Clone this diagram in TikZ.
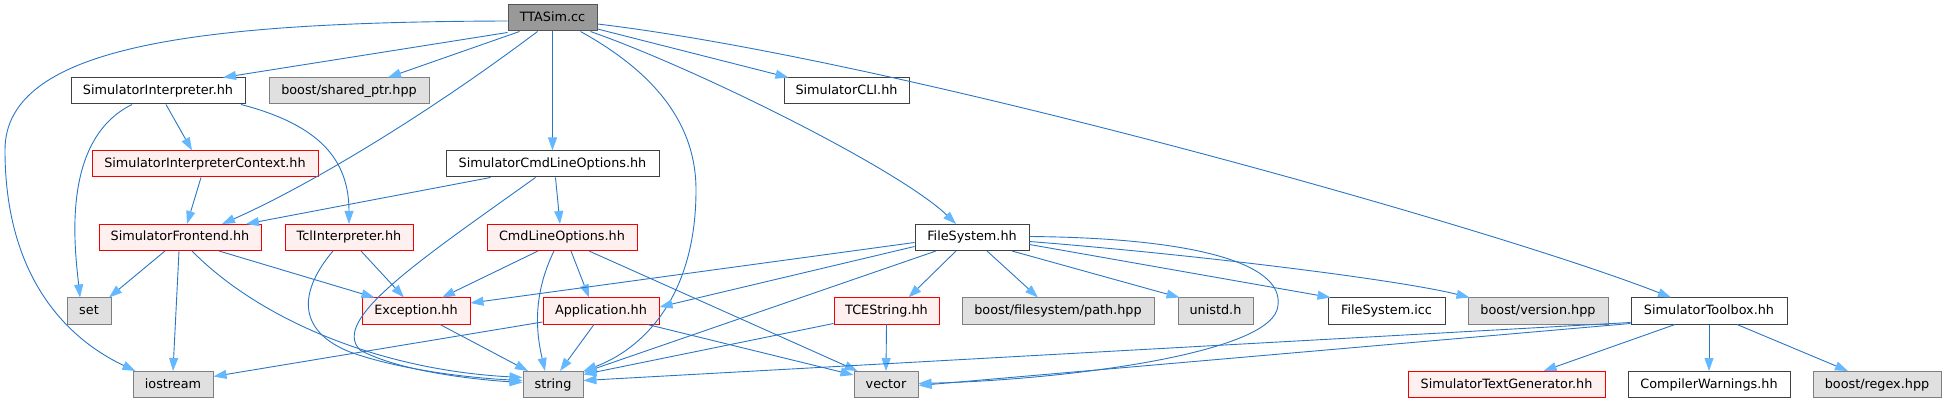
\documentclass[tikz,border=0pt]{standalone}
\usepackage{fontspec}
\setmainfont{DejaVu Sans}
\usetikzlibrary{arrows.meta}
\definecolor{edgec}{HTML}{2A76C4}
\definecolor{arrowc}{HTML}{63B8FF}
\definecolor{wborder}{HTML}{404040}
\definecolor{gborder}{HTML}{7F7F7F}
\definecolor{gfill}{HTML}{E0E0E0}
\definecolor{rfill}{HTML}{FFF0F0}
\definecolor{rborder}{HTML}{F00000}
\definecolor{tborder}{HTML}{555555}
\definecolor{tfill}{HTML}{999999}
\tikzset{
  box/.style={draw, rectangle, minimum height=26pt, inner sep=0pt, line width=1pt,
    font=\fontsize{12.8}{14}\selectfont, text height=9.6pt, text depth=2.6pt},
  wbox/.style={box, draw=wborder, fill=white},
  gbox/.style={box, draw=gborder, fill=gfill},
  rbox/.style={box, draw=rborder, fill=rfill},
  tbox/.style={box, draw=tborder, fill=tfill},
  dep/.style={draw=edgec, line width=0.9pt, -{Triangle[length=13pt,width=9pt,color=arrowc]}},
}
\begin{document}
\begin{tikzpicture}[x=1pt,y=-1pt]
\useasboundingbox (0,0) rectangle (1946,403);
% nodes
\node[tbox, minimum width=89] (tta) at (552.5,18) {TTASim.cc};
\node[wbox, minimum width=174] (si) at (158,91) {SimulatorInterpreter.hh};
\node[gbox, minimum width=160] (bsp) at (349,91) {boost/shared\_ptr.hpp};
\node[wbox, minimum width=125] (cli) at (846.5,91) {SimulatorCLI.hh};
\node[rbox, minimum width=226] (sic) at (205,164) {SimulatorInterpreterContext.hh};
\node[wbox, minimum width=213] (scl) at (552.5,164) {SimulatorCmdLineOptions.hh};
\node[rbox, minimum width=162] (sf) at (180,237.5) {SimulatorFrontend.hh};
\node[rbox, minimum width=128] (tcl) at (349,237.5) {TclInterpreter.hh};
\node[rbox, minimum width=150] (clo) at (562,237.5) {CmdLineOptions.hh};
\node[wbox, minimum width=114] (fs) at (972,237.5) {FileSystem.hh};
\node[gbox, minimum width=44] (set) at (89,311) {set};
\node[rbox, minimum width=108] (exc) at (416,311) {Exception.hh};
\node[rbox, minimum width=116] (app) at (601,311) {Application.hh};
\node[rbox, minimum width=105] (tce) at (886.5,311) {TCEString.hh};
\node[gbox, minimum width=192] (bfp) at (1058,311) {boost/filesystem/path.hpp};
\node[gbox, minimum width=75] (uni) at (1215.5,311) {unistd.h};
\node[wbox, minimum width=117] (fsi) at (1386.5,311) {FileSystem.icc};
\node[gbox, minimum width=140] (bver) at (1538,311) {boost/version.hpp};
\node[wbox, minimum width=156] (stb) at (1709,311) {SimulatorToolbox.hh};
\node[gbox, minimum width=80] (ios) at (173,384.5) {iostream};
\node[gbox, minimum width=60] (str) at (553,384.5) {string};
\node[gbox, minimum width=64] (vec) at (886,384.5) {vector};
\node[rbox, minimum width=197] (stg) at (1506.5,384.5) {SimulatorTextGenerator.hh};
\node[wbox, minimum width=162] (cw) at (1709,384.5) {CompilerWarnings.hh};
\node[gbox, minimum width=128] (brx) at (1877,384.5) {boost/regex.hpp};
% edges from TTASim.cc
\draw[dep] ([yshift=-3pt]tta.west) .. controls (200,22) and (5,45) .. (5,150) .. controls (5,290) and (80,345) .. ([xshift=3pt]ios.north west);
\draw[dep] ([yshift=-1pt]tta.south west) -- ([xshift=65pt]si.north);
\draw[dep] ([xshift=12pt]tta.south west) -- ([xshift=39pt]bsp.north);
\draw[dep] ([xshift=30pt]tta.south west) .. controls (420,120) and (300,190) .. ([xshift=42pt]sf.north);
\draw[dep] (tta.south) -- (scl.north);
\draw[dep] ([xshift=28pt]tta.south) .. controls (650,70) and (696,120) .. (696,190) .. controls (696,300) and (640,350) .. (str.north east);
\draw[dep] ([yshift=-11pt]tta.east) -- ([xshift=5pt]cli.north west);
\draw[dep] ([xshift=-7pt]tta.south east) .. controls (700,70) and (900,170) .. ([xshift=-16pt]fs.north);
\draw[dep] ([yshift=-6pt]tta.east) .. controls (900,60) and (1500,230) .. ([xshift=-38pt]stb.north);
% SimulatorInterpreter.hh
\draw[dep] ([xshift=-26pt]si.south) .. controls (60,140) and (75,250) .. ([xshift=-9pt]set.north);
\draw[dep] ([xshift=8pt]si.south) -- ([xshift=-13pt]sic.north);
\draw[dep] ([xshift=83pt]si.south) .. controls (320,125) and (349,160) .. (tcl.north);
% SimulatorInterpreterContext.hh
\draw[dep] ([xshift=-4pt]sic.south) -- ([xshift=7pt]sf.north);
% SimulatorCmdLineOptions.hh
\draw[dep] ([xshift=45pt]scl.south west) -- ([xshift=66pt]sf.north);
\draw[dep] ([xshift=3pt]scl.south) -- ([xshift=-2pt]clo.north);
\draw[dep] ([xshift=-17pt]scl.south) .. controls (420,260) and (330,320) .. (360,350) .. controls (400,372) and (480,380) .. ([yshift=2pt]str.west);
% SimulatorFrontend.hh
\draw[dep] ([xshift=-15pt]sf.south) -- ([xshift=20pt]set.north);
\draw[dep] ([xshift=-1pt]sf.south) -- (ios.north);
\draw[dep] ([xshift=39pt]sf.south) -- ([xshift=13pt]exc.north west);
\draw[dep] ([xshift=12pt]sf.south) .. controls (260,320) and (380,370) .. ([yshift=7pt]str.west);
% TclInterpreter.hh
\draw[dep] ([xshift=12pt]tcl.south) -- ([xshift=-12pt]exc.north);
\draw[dep] ([xshift=-16pt]tcl.south) .. controls (300,290) and (295,330) .. (350,352) .. controls (400,370) and (470,378) .. ([yshift=4pt]str.west);
% CmdLineOptions.hh
\draw[dep] ([xshift=-24pt]clo.south) -- ([xshift=26pt]exc.north);
\draw[dep] ([xshift=-8pt]clo.south) .. controls (530,300) and (538,340) .. ([xshift=-8pt]str.north);
\draw[dep] ([xshift=9pt]clo.south) -- ([xshift=-12pt]app.north);
\draw[dep] ([xshift=27pt]clo.south) -- ([xshift=4pt]vec.north west);
% Exception.hh
\draw[dep] ([xshift=24pt]exc.south) -- ([xshift=-25pt]str.north);
% Application.hh
\draw[dep] ([yshift=-11pt]app.west) -- ([yshift=8pt]ios.east);
\draw[dep] ([xshift=-7pt]app.south) -- ([xshift=7pt]str.north);
\draw[dep] ([xshift=-12pt]app.south east) -- ([yshift=-4pt]vec.north west);
% FileSystem.hh
\draw[dep] ([yshift=-5pt]fs.west) -- ([yshift=8pt]exc.east);
\draw[dep] ([yshift=-9pt]fs.west) -- ([yshift=4pt]app.east);
\draw[dep] ([xshift=-36pt]fs.south) -- ([yshift=12pt]str.east);
\draw[dep] ([xshift=-16pt]fs.south) -- ([xshift=22pt]tce.north);
\draw[dep] ([xshift=15pt]fs.south) -- ([xshift=-20pt]bfp.north);
\draw[dep] ([xshift=40pt]fs.south) -- ([xshift=2pt]uni.north west);
\draw[dep] ([yshift=-7pt]fs.east) -- ([xshift=3pt]fsi.north west);
\draw[dep] ([yshift=-4pt]fs.east) .. controls (1200,255) and (1400,280) .. ([xshift=2pt]bver.north west);
\draw[dep] ([yshift=1pt]fs.east) .. controls (1200,238) and (1290,265) .. (1277,310) .. controls (1262,355) and (1060,380) .. ([yshift=1pt]vec.east);
% TCEString.hh
\draw[dep] (tce.south) -- (vec.north);
\draw[dep] ([yshift=1pt]tce.south west) -- ([yshift=10pt]str.east);
% SimulatorToolbox.hh
\draw[dep] ([xshift=-34pt]stb.south) -- ([xshift=37pt]stg.north);
\draw[dep] (stb.south) -- (cw.north);
\draw[dep] ([xshift=28pt]stb.south) -- ([xshift=-29pt]brx.north);
\draw[dep] ([yshift=2pt]stb.south west) -- ([yshift=4pt]str.east);
\draw[dep] ([yshift=1pt]stb.south west) -- ([yshift=-1pt]vec.east);
\end{tikzpicture}
\end{document}
